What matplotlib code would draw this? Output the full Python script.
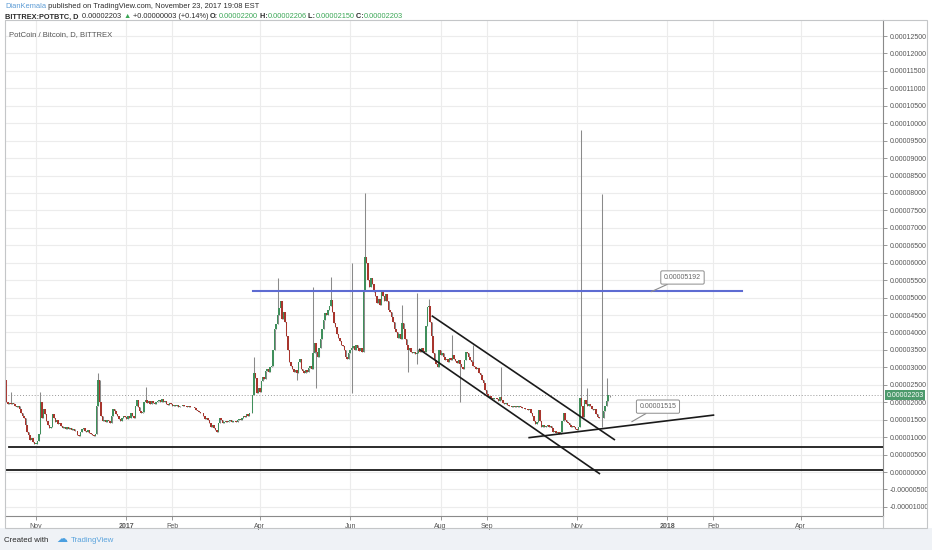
import matplotlib
matplotlib.use('Agg')
import matplotlib.pyplot as plt
import matplotlib.dates as mdates
from matplotlib.patches import Rectangle
import numpy as np
import pandas as pd

# ---------------- data (prices in satoshi, 1e-8 BTC) ----------------
first_open = 2640
closes = [
    # Oct 12 - Nov 3 2016
    2000, 1960, 1990, 1950, 1970, 1940, 1900, 1860, 1880, 1820, 1700, 1620,
    1550, 1350, 1150, 1050, 920, 980, 860, 800, 810, 900, 1100,
    # Nov 4 - Nov 17
    2000, 1550, 1800, 1650, 1450, 1350, 1250, 1300, 1650, 1550, 1420, 1480,
    1380, 1400,
    # Nov 18 - Nov 30
    1320, 1270, 1300, 1240, 1280, 1220, 1250, 1200, 1230, 1170, 1190, 1060, 1040,
    # Dec 1 - Dec 11
    1150, 1220, 1260, 1180, 1140, 1200, 1130, 1100, 1060, 1030, 1080,
    # Dec 12 - Dec 21
    1900, 2640, 2000, 1600, 1450, 1480, 1420, 1500, 1460, 1400,
    # Dec 22 - Jan 6
    1600, 1800, 1750, 1650, 1600, 1520, 1450, 1550, 1600, 1580, 1520, 1600,
    1550, 1680, 1620, 1560,
    # Jan 7 - Jan 31
    1900, 2060, 1850, 1750, 1700, 1720, 2000, 2060, 1980, 2030, 1960, 2040,
    1990, 1940, 2000, 2050, 2070, 2020, 2080, 2010, 2040, 1960, 1920, 1980, 1940,
    # Feb 1 - Feb 25
    1900, 1930, 1880, 1910, 1870, 1900, 1880, 1920, 1890, 1880, 1860, 1900,
    1870, 1850, 1860, 1830, 1790, 1760, 1720, 1700, 1680, 1600, 1520, 1560, 1480,
    # Feb 26 - Mar 26
    1400, 1300, 1340, 1250, 1200, 1150, 1400, 1550, 1480, 1400, 1430, 1460,
    1420, 1450, 1480, 1440, 1470, 1450, 1430, 1480, 1520, 1500, 1560, 1600,
    1580, 1650, 1620, 1700, 1680,
    # Mar 27 - Apr 12
    2200, 2840, 2700, 2265, 2400, 2300, 2600, 2720, 2680, 2900, 2950, 2880,
    3000, 3050, 3500, 4100, 4250,
    # Apr 13 - May 6
    4500, 4700, 4900, 4400, 4600, 4300, 3900, 3500, 3150, 3050, 2950, 2880,
    2920, 2850, 3150, 3250, 2950, 2900, 2850, 2920, 2880, 2980, 3050, 2950,
    # May 7 - Jun 9
    3400, 3700, 3450, 3300, 3550, 3800, 4100, 4350, 4550, 4500, 4650, 4750,
    4930, 4600, 4270, 4150, 3950, 3850, 3750, 3650, 3600, 3500, 3300, 3250,
    3400, 3500, 3550, 3600, 3500, 3650, 3550, 3480, 3550, 3450,
    # Jun 10 - Jul 21
    5220, 6160, 6000, 5500, 5300, 5550, 5400, 5150, 5050, 4850, 4950, 4800,
    5150, 5050, 4900, 5100, 4900, 4650, 4600, 4450, 4300, 4100, 4000, 3850,
    3950, 3800, 4270, 4100, 3800, 3650, 3500, 3550, 3450, 3400, 3450, 3380,
    3420, 3500, 3450, 3550, 3480, 3450,
    # Jul 22 - Sep 8
    4200, 4730, 4760, 4300, 3900, 3400, 3200, 3100, 3000, 3500, 3350, 3400,
    3300, 3200, 3250, 3150, 3280, 3200, 3350, 3250, 3180, 3120, 3200, 3100,
    3000, 2950, 3200, 3440, 3400, 3300, 3200, 3150, 3050, 3000, 2950, 2980,
    2850, 2780, 2650, 2550, 2350, 2250, 2150, 2180, 2120, 2100, 2130, 2110, 2090,
    # Sep 9 - Nov 1
    2050, 2150, 2070, 1990, 1950, 1970, 1920, 1900, 1880, 1860, 1900, 1870,
    1890, 1850, 1880, 1860, 1830, 1840, 1800, 1820, 1790, 1810, 1700, 1600,
    1450, 1380, 1420, 1780, 1450, 1300, 1350, 1280, 1320, 1350, 1300, 1330,
    1250, 1150, 1180, 1120, 1160, 1100, 1140, 1450, 1700, 1500, 1420, 1400,
    1350, 1300, 1320, 1280, 1220, 1200,
    # Nov 2 - Nov 23 2017
    1300, 2120, 1900, 1580, 2060, 1950, 1900, 1950, 1880, 1820, 1780, 1800,
    1650, 1580, 1560, 1540, 1560, 1750, 1900, 2050, 2200, 2203,
]
last_date = '2017-11-23'

wick_highs = {
    '2016-10-15': 2290, '2016-11-04': 2300, '2016-12-13': 2840,
    '2017-01-14': 2440, '2017-03-28': 3300, '2017-04-13': 5560,
    '2017-05-07': 5300, '2017-05-19': 5590, '2017-06-02': 5990,
    '2017-06-11': 8000, '2017-07-06': 4790, '2017-07-16': 5130,
    '2017-07-24': 4950, '2017-08-09': 3930, '2017-08-23': 3640,
    '2017-09-11': 3010, '2017-11-04': 9805, '2017-11-08': 2410,
    '2017-11-18': 7970, '2017-11-21': 2700, '2017-11-23': 2206,
}
wick_lows = {
    '2017-04-26': 2640, '2017-05-09': 2400, '2017-06-02': 2265,
    '2017-07-10': 2870, '2017-07-16': 3100, '2017-08-14': 2000,
    '2017-11-18': 1300, '2017-11-23': 2150,
}

resistance_level = 5192
support_levels = [725, 45]
channel_upper = (['2017-07-26 00:00', '2017-11-26 16:00'], [4481, 917])
channel_lower = (['2017-07-17 10:00', '2017-11-16 14:00'], [3526, -57])
support_trend = (['2017-09-29 05:00', '2018-02-01 16:00'], [983, 1634])
resistance_span = ['2017-03-27 10:00', '2018-02-20 10:00']
callouts = [
    ('0.00005192', '2018-01-11 05:00', 5577, '2017-12-21 03:00', 5170),
    ('0.00001515', '2017-12-25 16:00', 1875, '2017-12-08 00:00', 1442),
]

tick_dates = ['2016-11-01', '2017-01-01', '2017-02-01', '2017-04-01', '2017-06-01',
              '2017-08-01', '2017-09-01', '2017-11-01', '2018-01-01', '2018-02-01',
              '2018-04-01']
tick_labels = ['Nov', '2017', 'Feb', 'Apr', 'Jun', 'Aug', 'Sep', 'Nov', '2018', 'Feb', 'Apr']
ytick_sat = list(range(-1000, 12501, 500))

SAT = 1e-8


def dnum(s):
    return mdates.date2num(pd.Timestamp(s))


# ---------------- figure ----------------
W, H = 932, 550
plt.rcParams['font.family'] = ['Liberation Sans', 'DejaVu Sans']
fig = plt.figure(figsize=(W / 100, H / 100), dpi=100)
fig.patch.set_facecolor('white')


def fx(px):
    return px / W


def fy(py):
    return 1 - py / H


fig.add_artist(Rectangle((0, 0), 1, fy(528), transform=fig.transFigure,
                         facecolor='#eff2f6', edgecolor='none', zorder=-5))

ax = fig.add_axes([fx(5), fy(516), fx(883) - fx(5), fy(20) - fy(516)])
ax.set_facecolor('white')

dates = pd.date_range(end=last_date, periods=len(closes), freq='D')
c = np.array(closes, float)
o = np.concatenate([[first_open], c[:-1]])
hi = np.maximum(o, c)
lo = np.minimum(o, c)
for d, v in wick_highs.items():
    k = dates.get_loc(pd.Timestamp(d))
    hi[k] = max(hi[k], v)
for d, v in wick_lows.items():
    k = dates.get_loc(pd.Timestamp(d))
    lo[k] = min(lo[k], v)

x = mdates.date2num(dates)
up = c >= o
colors = np.where(up, '#3f8f5b', '#a8352d')
ax.vlines(x, lo * SAT, hi * SAT, color='#8a8a8a', lw=0.75, zorder=2)
ax.bar(x, np.maximum(np.abs(c - o), 18) * SAT, bottom=np.minimum(o, c) * SAT,
       width=1.0, color=colors, linewidth=0, zorder=3)

# axes limits
nov1 = dnum('2016-11-01')
ax.set_xlim(nov1 - 20.9, nov1 + 571.5)
ax.set_ylim(-1261 * SAT, 12959 * SAT)

# grid
for td in tick_dates:
    ax.axvline(dnum(td), color='#ececec', lw=0.8, zorder=0)
for v in ytick_sat:
    ax.axhline(v * SAT, color='#ececec', lw=0.8, zorder=0)

# last price dotted line
ax.axhline(closes[-1] * SAT, color='#9a9a9a', lw=0.7, ls=(0, (1, 2)), zorder=1)

# drawings
ax.axhline(support_levels[0] * SAT, xmin=0.005, xmax=1, color='#1a1a1a', lw=1.3, zorder=4)
ax.axhline(support_levels[1] * SAT, xmin=0, xmax=1, color='#1a1a1a', lw=1.3, zorder=4)
ax.plot([dnum(s) for s in resistance_span], [resistance_level * SAT] * 2,
        color='#5d6bd2', lw=1.5, zorder=4)
for dd, vv in (channel_upper, channel_lower, support_trend):
    ax.plot([dnum(s) for s in dd], np.array(vv) * SAT,
            color='#1a1a1a', lw=1.2, zorder=4, solid_capstyle='butt')

for txt, bx, by, px, py in callouts:
    ax.annotate(txt, xy=(dnum(px), py * SAT), xytext=(dnum(bx), by * SAT),
                textcoords='data', fontsize=5, color='#666666', ha='center', va='center',
                bbox=dict(boxstyle='round,pad=0.45,rounding_size=0.2', fc='white',
                          ec='#8c8c8c', lw=0.7),
                arrowprops=dict(arrowstyle='-', color='#8c8c8c', lw=0.8,
                                shrinkA=0, shrinkB=0), zorder=5)

# ticks
ax.yaxis.tick_right()
ax.set_yticks([v * SAT for v in ytick_sat])
ax.set_yticklabels([f"{v * SAT:.8f}" for v in ytick_sat])
ax.tick_params(axis='y', direction='out', length=3, width=0.6, color='#888888',
               labelsize=5, labelcolor='#555555', pad=2)
ax.set_xticks([dnum(s) for s in tick_dates])
ax.set_xticklabels(tick_labels)
ax.tick_params(axis='x', direction='out', length=3, width=0.6, color='#888888',
               labelsize=5, labelcolor='#555555', pad=2)
for lab in ax.get_xticklabels():
    if lab.get_text().isdigit():
        lab.set_fontweight('bold')

for s in ('left', 'top'):
    ax.spines[s].set_color('#d0d0d0')
    ax.spines[s].set_linewidth(0.7)
for s in ('right', 'bottom'):
    ax.spines[s].set_color('#8a8a8a')
    ax.spines[s].set_linewidth(0.8)

# last price label on axis
ax.text(1.004, closes[-1] * SAT, f"{closes[-1] * SAT:.8f}", transform=ax.get_yaxis_transform(),
        fontsize=5, color='white', ha='left', va='center', zorder=6, clip_on=False,
        bbox=dict(boxstyle='square,pad=0.25', fc='#4c9a6c', ec='none'))

# outer frame
fig.add_artist(Rectangle((fx(5), fy(528)), fx(927) - fx(5), fy(20) - fy(528),
                         transform=fig.transFigure, fill=False, edgecolor='#c4c6c8',
                         lw=0.8, zorder=10))
fig.add_artist(plt.Line2D([fx(883), fx(883)], [fy(528), fy(516)], transform=fig.transFigure,
                          color='#c4c6c8', lw=0.8))

renderer = fig.canvas.get_renderer()


def seq_text(pieces, x0, y0, target_w, base=6.0):
    arts = []
    total = 0
    for s, col, wt in pieces:
        t = fig.text(0, 0, s, fontsize=base, color=col, fontweight=wt, va='center', ha='left')
        total += t.get_window_extent(renderer).width
        arts.append(t)
    size = base * target_w / total
    xpos = x0
    for t in arts:
        t.set_fontsize(size)
        t.set_position((fx(xpos), fy(y0)))
        xpos += t.get_window_extent(renderer).width


G = '#3aa655'
D = '#2b2b2b'
seq_text([('DianKemala', '#5b9bd5', 'normal'),
          (' published on TradingView.com, November 23, 2017 19:08 EST', D, 'normal')],
         5, 7, 256)
seq_text([('BITTREX:POTBTC, D', D, 'bold'), ('  0.00002203 ', D, 'normal'),
          ('\u25B2', G, 'normal'), (' +0.00000003 (+0.14%) ', D, 'normal'),
          ('O:', D, 'bold'), ('0.00002200', G, 'normal'),
          (' H:', D, 'bold'), ('0.00002206', G, 'normal'),
          (' L:', D, 'bold'), ('0.00002150', G, 'normal'),
          (' C:', D, 'bold'), ('0.00002203', G, 'normal')],
         5, 17, 405)
seq_text([('PotCoin / Bitcoin, D, BITTREX', '#555555', 'normal')], 9, 35, 104)
seq_text([('Created with', D, 'normal')], 4, 540, 45)
seq_text([('\u2601', '#4a9fe0', 'normal')], 56, 539, 11)
seq_text([('TradingView', '#5ba4dd', 'normal')], 71, 540, 44)

fig.savefig('out.png', dpi=100, facecolor=fig.get_facecolor())
